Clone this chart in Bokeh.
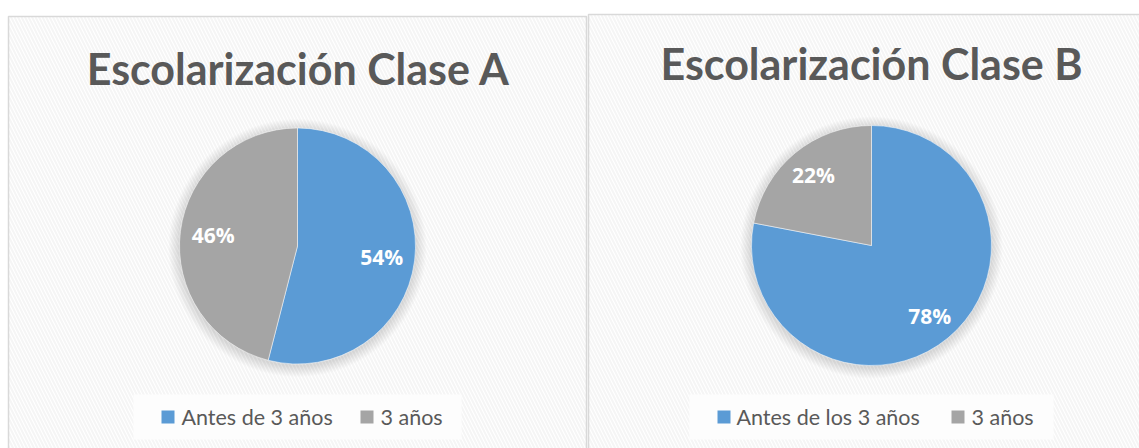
import math
from bokeh.plotting import figure
from bokeh.models import Range1d, ColumnDataSource
from bokeh.core.properties import value
from bokeh.embed import file_html
from bokeh.resources import INLINE

# ---- data ----
titles = ["Escolarización Clase A", "Escolarización Clase B"]
categories_a = ["Antes de 3 años", "3 años"]
categories_b = ["Antes de los 3 años", "3 años"]
values_a = [54, 46]
values_b = [78, 22]
colors = ["#5B9BD5", "#A5A5A5"]

W, H = 1139, 448
p = figure(width=W, height=H, output_backend="svg", toolbar_location=None,
           x_range=Range1d(0, W), y_range=Range1d(0, H),
           min_border=0, outline_line_color=None)
p.axis.visible = False
p.grid.visible = False
p.background_fill_color = "white"
p.border_fill_color = "white"

def Y(sy):
    return H - sy

TXT = "#595959"
FONT = "Lato"

panels = [
    dict(x0=8, x1=586, top=16, cx=297, cy=245.5, r=118, title_cx=298, title_cy=68, frac=0.72,
         cats=categories_a, vals=values_a, title=titles[0],
         leg_box=(133, 461), leg_sq=[161, 360], leg_tx=[181, 380]),
    dict(x0=588, x1=1160, top=14, cx=871, cy=245, r=120, title_cx=871, title_cy=63, frac=0.76,
         cats=categories_b, vals=values_b, title=titles[1],
         leg_box=(689, 1053), leg_sq=[717, 951], leg_tx=[736, 971]),
]

for pn in panels:
    # panel background with diagonal hatch
    p.quad(left=pn["x0"], right=pn["x1"], top=Y(pn["top"]), bottom=Y(470),
           fill_color="white", line_color="#d9d9d9", line_width=1.5,
           hatch_pattern="left_diagonal_line", hatch_color="#f5f5f5",
           hatch_weight=2, hatch_scale=7)
    # title
    p.text(x=[pn["title_cx"]], y=[Y(pn["title_cy"])], text=[pn["title"]],
           text_font=value(FONT), text_font_style="bold",
           text_font_size="43px", text_color=TXT,
           text_align="center", text_baseline="middle")
    # soft shadow
    cx, cy, r = pn["cx"], Y(pn["cy"]), pn["r"]
    for k in range(1, 12):
        p.circle(x=[cx], y=[cy - 2], radius=r + k, radius_units="screen",
                 fill_color="black", fill_alpha=0.012, line_color=None)
    # wedges
    tot = sum(pn["vals"])
    cum = 0
    starts, ends, mids = [], [], []
    for v in pn["vals"]:
        a0 = math.pi / 2 - 2 * math.pi * cum / tot
        cum += v
        a1 = math.pi / 2 - 2 * math.pi * cum / tot
        starts.append(a0)
        ends.append(a1)
        mids.append((a0 + a1) / 2)
    src = ColumnDataSource(dict(start=starts, end=ends, color=colors))
    p.wedge(x=cx, y=cy, radius=r, radius_units="screen",
            start_angle="start", end_angle="end", direction="clock",
            fill_color="color", line_color="white", line_width=0.5, source=src)
    # data labels
    lr = r * pn["frac"]
    p.text(x=[cx + lr * math.cos(m) for m in mids],
           y=[cy + lr * math.sin(m) for m in mids],
           text=[f"{v}%" for v in pn["vals"]],
           text_font=value("Open Sans"), text_font_style="bold",
           text_font_size="21px", text_color="white",
           text_align="center", text_baseline="middle")
    # legend box
    lb0, lb1 = pn["leg_box"]
    p.quad(left=lb0, right=lb1, top=Y(394), bottom=Y(439),
           fill_color="#fdfdfd", line_color=None)
    for i, c in enumerate(pn["cats"]):
        sx = pn["leg_sq"][i]
        p.quad(left=sx, right=sx + 13, top=Y(410), bottom=Y(423),
               fill_color=colors[i], line_color=None)
        p.text(x=[pn["leg_tx"][i]], y=[Y(416)], text=[c],
               text_font=value(FONT), text_font_size="21.5px", text_color=TXT,
               text_align="left", text_baseline="middle")

open("out.html", "w").write(file_html(p, INLINE))
